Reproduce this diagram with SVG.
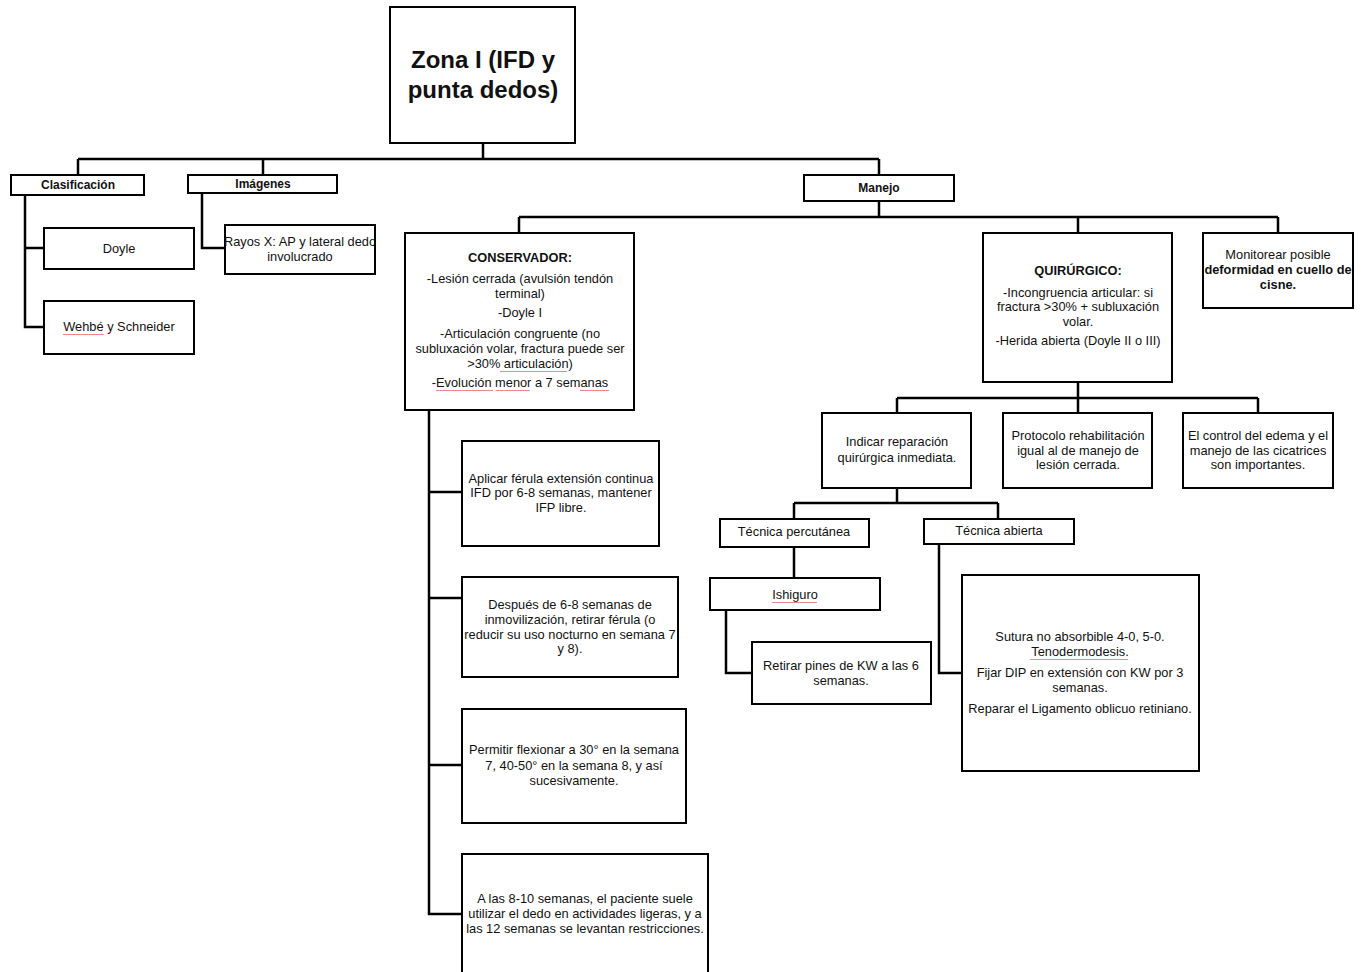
<svg xmlns="http://www.w3.org/2000/svg" width="1368" height="972" viewBox="0 0 1368 972">
<style>
.box{fill:#fff;stroke:#000;stroke-width:2}
.c{fill:none;stroke:#000;stroke-width:2.5}
.t{font-family:"Liberation Sans",Arial,sans-serif;font-size:12.8px;fill:#111;text-anchor:middle}
.b{font-weight:bold}
.sq{stroke:#e88;stroke-width:1;fill:none}
</style>
<rect width="1368" height="972" fill="#fff"/>
<g id="connectors">
<path class="c" d="M483 143V159M78 159H879M78 159V175M263 159V175M879 159V175"/>
<path class="c" d="M25 195V327H44M25 248H44"/>
<path class="c" d="M202 193V248H225"/>
<path class="c" d="M879 201V217M519 217H1278M519 217V233M1078 217V233M1278 217V233"/>
<path class="c" d="M429 410V914H462M429 492H462M429 598H462M429 765H462"/>
<path class="c" d="M1078 382V398M897 398H1258M897 398V413M1078 398V413M1258 398V413"/>
<path class="c" d="M897 488V503M794 503H998M794 503V519M998 503V519"/>
<path class="c" d="M794 547V578"/>
<path class="c" d="M726 610V673H752"/>
<path class="c" d="M939 544V673H962"/>
</g>
<g id="n-zona"><rect class="box" x="390" y="7" width="185" height="136"/>
<text class="t b" x="483" y="68" style="font-size:24px">Zona I (IFD y</text>
<text class="t b" x="483" y="98" style="font-size:24px">punta dedos)</text></g>
<g id="n-clasificacion"><rect class="box" x="11" y="175" width="133" height="20"/><text class="t b" x="78" y="189" style="font-size:12px">Clasificación</text></g>
<g id="n-imagenes"><rect class="box" x="188" y="175" width="149" height="18"/><text class="t b" x="263" y="188" style="font-size:12px">Imágenes</text></g>
<g id="n-manejo"><rect class="box" x="804" y="175" width="150" height="26"/><text class="t b" x="879" y="192" style="font-size:12px">Manejo</text></g>
<g id="n-doyle"><rect class="box" x="44" y="228" width="150" height="41"/><text class="t" x="119" y="253">Doyle</text></g>
<g id="n-wehbe"><rect class="box" x="44" y="301" width="150" height="53"/><text class="t" x="119" y="331">Wehbé y Schneider</text><path class="sq" d="M63 334.5H104"/></g>
<g id="n-rayos"><rect class="box" x="225" y="225" width="150" height="49"/><text class="t" x="300" y="246">Rayos X: AP y lateral dedo</text><text class="t" x="300" y="261">involucrado</text></g>
<g id="n-conservador"><rect class="box" x="405" y="233" width="229" height="177"/>
<text class="t b" x="520" y="262">CONSERVADOR:</text>
<text class="t" x="520" y="283">-Lesión cerrada (avulsión tendón</text>
<text class="t" x="520" y="298">terminal)</text>
<text class="t" x="520" y="317">-Doyle I</text>
<text class="t" x="520" y="338">-Articulación congruente (no</text>
<text class="t" x="520" y="353">subluxación volar, fractura puede ser</text>
<text class="t" x="520" y="368">&gt;30% articulación)</text>
<text class="t" x="520" y="387">-Evolución menor a 7 semanas</text>
<path class="sq" d="M500 371.5H567M436 390.5H493M496 390.5H530M580 390.5H609"/></g>
<g id="n-quirurgico"><rect class="box" x="983" y="233" width="189" height="149"/>
<text class="t b" x="1078" y="275">QUIRÚRGICO:</text>
<text class="t" x="1078" y="297">-Incongruencia articular: si</text>
<text class="t" x="1078" y="311">fractura &gt;30% + subluxación</text>
<text class="t" x="1078" y="326">volar.</text>
<text class="t" x="1078" y="345">-Herida abierta (Doyle II o III)</text></g>
<g id="n-monitorear"><rect class="box" x="1203" y="233" width="150" height="75"/>
<text class="t" x="1278" y="259">Monitorear posible</text>
<text class="t b" x="1278" y="274">deformidad en cuello de</text>
<text class="t b" x="1278" y="289">cisne.</text></g>
<g id="n-indicar"><rect class="box" x="822" y="413" width="149" height="75"/>
<text class="t" x="897" y="446">Indicar reparación</text>
<text class="t" x="897" y="462">quirúrgica inmediata.</text></g>
<g id="n-protocolo"><rect class="box" x="1003" y="413" width="149" height="75"/>
<text class="t" x="1078" y="440">Protocolo rehabilitación</text>
<text class="t" x="1078" y="455">igual al de manejo de</text>
<text class="t" x="1078" y="469">lesión cerrada.</text></g>
<g id="n-control"><rect class="box" x="1183" y="413" width="150" height="75"/>
<text class="t" x="1258" y="440">El control del edema y el</text>
<text class="t" x="1258" y="455">manejo de las cicatrices</text>
<text class="t" x="1258" y="469">son importantes.</text></g>
<g id="n-percutanea"><rect class="box" x="720" y="519" width="149" height="28"/><text class="t" x="794" y="536">Técnica percutánea</text></g>
<g id="n-abierta"><rect class="box" x="924" y="519" width="150" height="25"/><text class="t" x="999" y="535">Técnica abierta</text></g>
<g id="n-ishiguro"><rect class="box" x="710" y="578" width="170" height="32"/><text class="t" x="795" y="599">Ishiguro</text><path class="sq" d="M772 602.5H817"/></g>
<g id="n-retirar"><rect class="box" x="752" y="642" width="179" height="62"/>
<text class="t" x="841" y="670">Retirar pines de KW a las 6</text>
<text class="t" x="841" y="685">semanas.</text></g>
<g id="n-sutura"><rect class="box" x="962" y="575" width="237" height="196"/>
<text class="t" x="1080" y="641">Sutura no absorbible 4-0, 5-0.</text>
<text class="t" x="1080" y="656">Tenodermodesis.</text>
<text class="t" x="1080" y="677">Fijar DIP en extensión con KW por 3</text>
<text class="t" x="1080" y="692">semanas.</text>
<text class="t" x="1080" y="713">Reparar el Ligamento oblicuo retiniano.</text>
<path class="sq" d="M1030 659.5H1128"/></g>
<g id="n-aplicar"><rect class="box" x="462" y="441" width="197" height="105"/>
<text class="t" x="561" y="483">Aplicar férula extensión continua</text>
<text class="t" x="561" y="497">IFD por 6-8 semanas, mantener</text>
<text class="t" x="561" y="512">IFP libre.</text></g>
<g id="n-despues"><rect class="box" x="462" y="577" width="216" height="100"/>
<text class="t" x="570" y="609">Después de 6-8 semanas de</text>
<text class="t" x="570" y="624">inmovilización, retirar férula (o</text>
<text class="t" x="570" y="639">reducir su uso nocturno en semana 7</text>
<text class="t" x="570" y="653">y 8).</text></g>
<g id="n-permitir"><rect class="box" x="462" y="709" width="224" height="114"/>
<text class="t" x="574" y="754">Permitir flexionar a 30° en la semana</text>
<text class="t" x="574" y="770">7, 40-50° en la semana 8, y así</text>
<text class="t" x="574" y="785">sucesivamente.</text></g>
<g id="n-alas"><rect class="box" x="462" y="854" width="246" height="130"/>
<text class="t" x="585" y="903">A las 8-10 semanas, el paciente suele</text>
<text class="t" x="585" y="918">utilizar el dedo en actividades ligeras, y a</text>
<text class="t" x="585" y="933">las 12 semanas se levantan restricciones.</text></g>
</svg>
